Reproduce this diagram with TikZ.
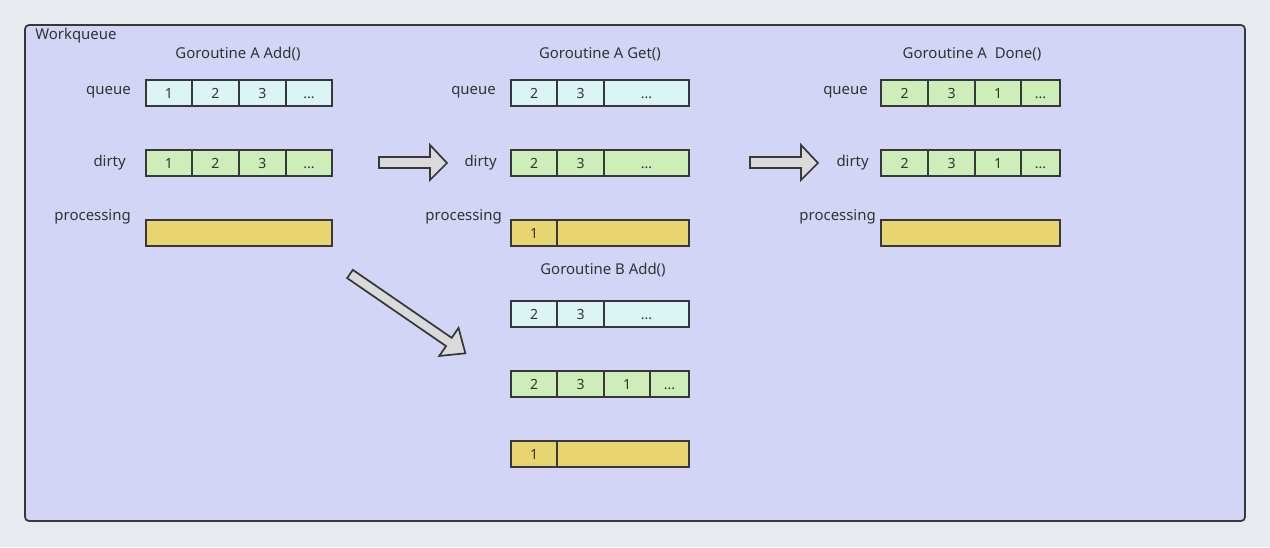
\documentclass[tikz,border=0pt]{standalone}
\usepackage{fontspec}
\setmainfont{Noto Sans}
\definecolor{outerbg}{HTML}{E7EBEF}
\definecolor{panelbg}{HTML}{D3D5F7}
\definecolor{edge}{HTML}{383838}
\definecolor{qfill}{HTML}{DBF5F5}
\definecolor{gfill}{HTML}{CDEDB9}
\definecolor{yfill}{HTML}{E8D570}
\definecolor{afill}{HTML}{DADADA}
\definecolor{txt}{HTML}{333333}
\tikzset{
  cellline/.style={draw=edge, line width=1.4pt},
  celltxt/.style={font=\fontsize{10.5}{12}\selectfont, text=txt, inner sep=0pt, text height=7.5pt, text depth=0pt},
  lbl/.style={font=\fontsize{11.2}{13}\selectfont, text=txt, anchor=base east, inner sep=0pt},
  ttl/.style={font=\fontsize{11.2}{13}\selectfont, text=txt, anchor=base, inner sep=0pt},
  blockarrow/.style={draw=edge, fill=afill, line width=1.3pt, line join=miter}
}
\newcommand\mycell[6]{%
  \draw[cellline, fill=#5] (#2,#4) rectangle (#3,#4+26);
  \node[celltxt] (#1) at ({(#2+#3)/2},#4+13.5) {#6};}
\begin{document}
\begin{tikzpicture}[x=0.75pt,y=-0.75pt]
\useasboundingbox (0,0) rectangle (1270,547);
\fill[outerbg] (0,0) rectangle (1270,547);
\draw[edge, fill=panelbg, line width=1.3pt, rounded corners=3pt] (25,25) rectangle (1245,521);
\node[font=\fontsize{11.2}{13}\selectfont, text=txt, anchor=base west, inner sep=0pt] (wq) at (35,39.5) {Workqueue};

% Panel 1: Goroutine A Add()
\node[ttl] (t1) at (238,58) {Goroutine A Add()};
\node[lbl] (l1q) at (131,94) {queue};
\node[lbl] (l1d) at (126,166) {dirty};
\node[lbl] (l1p) at (131,220) {processing};
\mycell{a1}{146}{192}{80}{qfill}{1}
\mycell{a2}{192}{239}{80}{qfill}{2}
\mycell{a3}{239}{286}{80}{qfill}{3}
\mycell{a4}{286}{332}{80}{qfill}{...}
\mycell{b1}{146}{192}{150}{gfill}{1}
\mycell{b2}{192}{239}{150}{gfill}{2}
\mycell{b3}{239}{286}{150}{gfill}{3}
\mycell{b4}{286}{332}{150}{gfill}{...}
\mycell{c1}{146}{332}{220}{yfill}{}

% Panel 2: Goroutine A Get()
\node[ttl] (t2) at (600,58) {Goroutine A Get()};
\node[lbl] (l2q) at (496,94) {queue};
\node[lbl] (l2d) at (497,166) {dirty};
\node[lbl] (l2p) at (502,220) {processing};
\mycell{d1}{511}{557}{80}{qfill}{2}
\mycell{d2}{557}{604}{80}{qfill}{3}
\mycell{d3}{604}{689}{80}{qfill}{...}
\mycell{e1}{511}{557}{150}{gfill}{2}
\mycell{e2}{557}{604}{150}{gfill}{3}
\mycell{e3}{604}{689}{150}{gfill}{...}
\mycell{f1}{511}{557}{220}{yfill}{1}
\mycell{f2}{557}{689}{220}{yfill}{}

% Panel B: Goroutine B Add()
\node[ttl] (t4) at (603,274) {Goroutine B Add()};
\mycell{g1}{511}{557}{301}{qfill}{2}
\mycell{g2}{557}{604}{301}{qfill}{3}
\mycell{g3}{604}{689}{301}{qfill}{...}
\mycell{h1}{511}{557}{371}{gfill}{2}
\mycell{h2}{557}{604}{371}{gfill}{3}
\mycell{h3}{604}{650}{371}{gfill}{1}
\mycell{h4}{650}{689}{371}{gfill}{...}
\mycell{i1}{511}{557}{441}{yfill}{1}
\mycell{i2}{557}{689}{441}{yfill}{}

% Panel 3: Goroutine A Done()
\node[ttl] (t3) at (972,58) {Goroutine A\ \ Done()};
\node[lbl] (l3q) at (868,94) {queue};
\node[lbl] (l3d) at (869,166) {dirty};
\node[lbl] (l3p) at (876,220) {processing};
\mycell{j1}{881}{928}{80}{gfill}{2}
\mycell{j2}{928}{975}{80}{gfill}{3}
\mycell{j3}{975}{1021}{80}{gfill}{1}
\mycell{j4}{1021}{1060}{80}{gfill}{...}
\mycell{k1}{881}{928}{150}{gfill}{2}
\mycell{k2}{928}{975}{150}{gfill}{3}
\mycell{k3}{975}{1021}{150}{gfill}{1}
\mycell{k4}{1021}{1060}{150}{gfill}{...}
\mycell{m1}{881}{1060}{220}{yfill}{}

% Block arrows
\draw[blockarrow] (379,157) -- (430,157) -- (430,145) -- (447,163) -- (430,180) -- (430,168) -- (379,168) -- cycle;
\draw[blockarrow] (750,157) -- (801,157) -- (801,145) -- (818,163) -- (801,180) -- (801,168) -- (750,168) -- cycle;
\begin{scope}[shift={(350,274)}, rotate=-34.5]
\draw[blockarrow] (0,-5) -- (120,-5) -- (120,-17) -- (140,0) -- (120,17) -- (120,5) -- (0,5) -- cycle;
\end{scope}
\end{tikzpicture}
\end{document}
